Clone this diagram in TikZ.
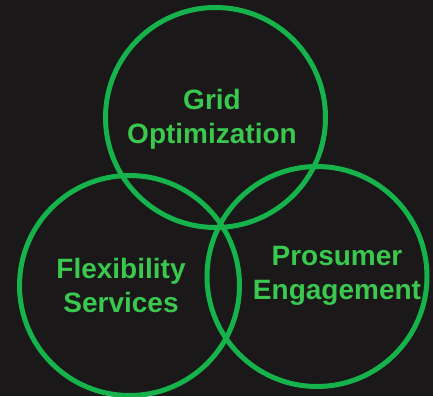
\documentclass[tikz,border=0pt]{standalone}
\usepackage{fontspec}
\setmainfont{Liberation Sans}
\usepackage{tikz}

\definecolor{backdark}{RGB}{26,24,24}
\definecolor{ringgreen}{RGB}{22,178,76}
\definecolor{labelgreen}{RGB}{58,200,78}

\begin{document}
\begin{tikzpicture}[x=1pt,y=-1pt,
  ring/.style={circle,draw=ringgreen,line width=5pt,minimum size=220pt,inner sep=0pt},
  ringtext/.style={text=labelgreen,align=center,font=\fontsize{28}{34}\selectfont\bfseries}]
% background
\fill[backdark] (0,0) rectangle (433,396);
\useasboundingbox (0,0) rectangle (433,396);

% the three rings
\node[ring] (grid) at (215.5,117.5) {};
\node[ring] (flex) at (129.5,285.5) {};
\node[ring] (pros) at (317,276.5) {};

% labels
\node[ringtext] (gridtext) at (212,119) {Grid\\Optimization};
\node[ringtext] (flextext) at (121,285) {Flexibility\\Services};
\node[ringtext] (prostext) at (337,276) {Prosumer\\Engagement};
\end{tikzpicture}
\end{document}
